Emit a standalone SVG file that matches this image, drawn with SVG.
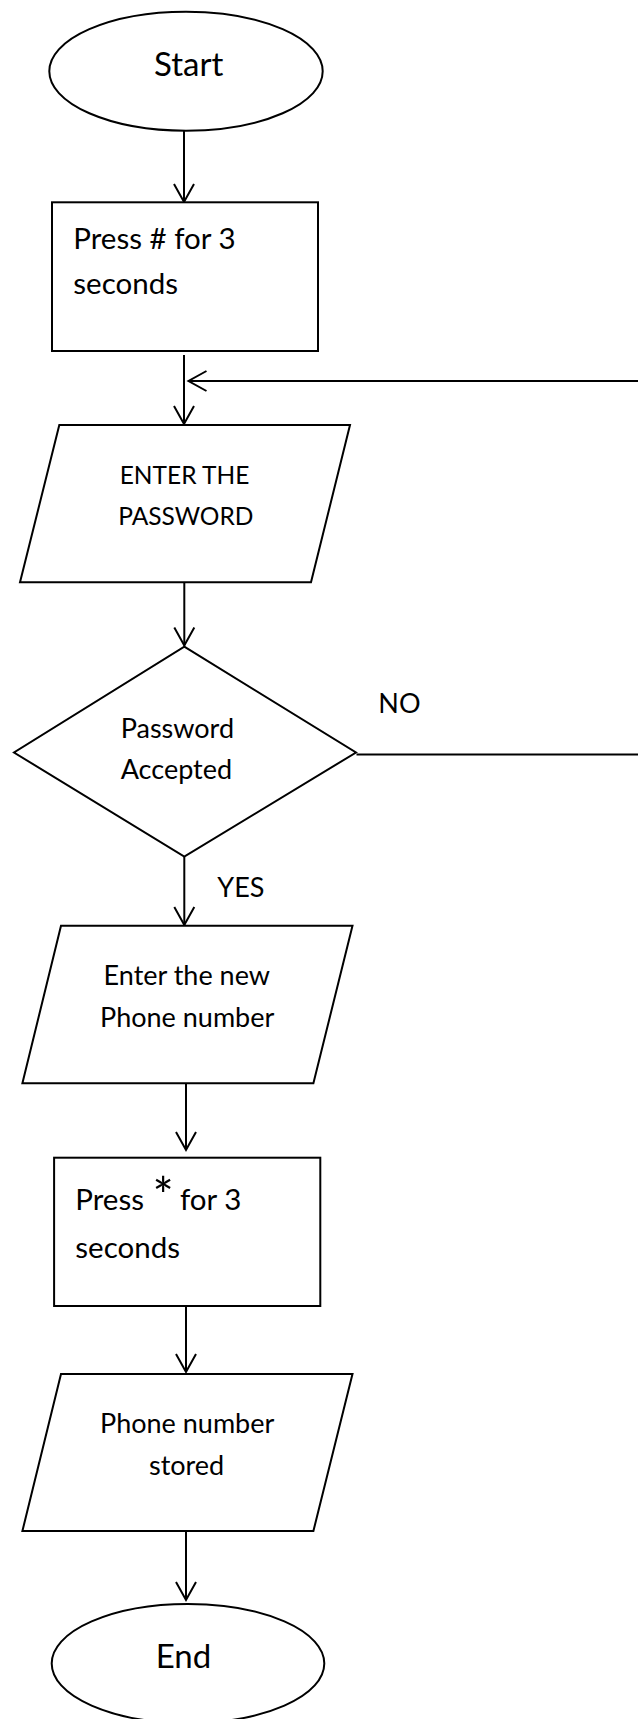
<svg xmlns="http://www.w3.org/2000/svg" width="638" height="1719" viewBox="0 0 638 1719">
  <style>
    .shape { fill: #ffffff; stroke: #000000; stroke-width: 2; }
    .wire { fill: none; stroke: #000000; stroke-width: 2; }
    .label { font-family: Lato, "Liberation Sans", sans-serif; fill: #000000; }
    .body { font-size: 27px; }
    .caps { font-size: 24.5px; }
    .boxtext { font-size: 29.5px; }
    .term { font-size: 33px; }
    .mid { text-anchor: middle; }
  </style>
  <defs>
    <marker id="open-arrow" markerUnits="userSpaceOnUse" viewBox="-20 -12 22 24" refX="0" refY="0" markerWidth="22" markerHeight="24" orient="auto" overflow="visible">
      <path d="M -18 -10 L 0 0 L -18 10" fill="none" stroke="#000000" stroke-width="2"/>
    </marker>
  </defs>

  <rect x="0" y="0" width="638" height="1719" fill="#ffffff"/>

  <!-- connectors -->
  <g id="connectors">
    <line class="wire" x1="184" y1="131" x2="184" y2="202" marker-end="url(#open-arrow)"/>
    <line class="wire" x1="184" y1="355" x2="184" y2="424" marker-end="url(#open-arrow)"/>
    <line class="wire" x1="640" y1="381" x2="188.5" y2="381" marker-end="url(#open-arrow)"/>
    <line class="wire" x1="184.3" y1="577.5" x2="184.3" y2="645.5" marker-end="url(#open-arrow)"/>
    <line class="wire" x1="356.5" y1="754.5" x2="640" y2="754.5"/>
    <line class="wire" x1="184.3" y1="856.7" x2="184.3" y2="925" marker-end="url(#open-arrow)"/>
    <line class="wire" x1="186" y1="1083" x2="186" y2="1150" marker-end="url(#open-arrow)"/>
    <line class="wire" x1="186" y1="1306" x2="186" y2="1372" marker-end="url(#open-arrow)"/>
    <line class="wire" x1="186" y1="1531" x2="186" y2="1600" marker-end="url(#open-arrow)"/>
    <text class="label body" x="378.3" y="712.7">NO</text>
    <text class="label body" x="217.3" y="896.7">YES</text>
  </g>

  <!-- start terminator -->
  <g id="start">
    <ellipse class="shape" cx="186" cy="71.2" rx="136.7" ry="59.5"/>
    <text class="label term mid" x="188.7" y="76">Start</text>
  </g>

  <!-- hold # key -->
  <g id="press-hash">
    <rect class="shape" x="52" y="202.3" width="266" height="148.7"/>
    <text class="label boxtext" x="73.3" y="249.3">Press # for 3</text>
    <text class="label boxtext" x="73.3" y="294">seconds</text>
  </g>

  <!-- password input -->
  <g id="enter-password">
    <polygon class="shape" points="59.3,425 350,425 311,582.3 20,582.3"/>
    <text class="label caps mid" x="184.5" y="484">ENTER THE</text>
    <text class="label caps mid" x="185.8" y="525">PASSWORD</text>
  </g>

  <!-- password check -->
  <g id="password-accepted">
    <polygon class="shape" points="184.3,646.7 356,752.5 184.3,856.7 14,752.5"/>
    <text class="label body" x="120.7" y="737.7">Password</text>
    <text class="label body" x="120.7" y="779">Accepted</text>
  </g>

  <!-- new number input -->
  <g id="enter-number">
    <polygon class="shape" points="61,925.7 352.5,925.7 313.4,1083.3 22.4,1083.3"/>
    <text class="label body mid" x="186.8" y="985">Enter the new</text>
    <text class="label body mid" x="187.2" y="1026.7">Phone number</text>
  </g>

  <!-- hold * key -->
  <g id="press-star">
    <rect class="shape" x="54.1" y="1157.7" width="266.2" height="148.3"/>
    <text class="label boxtext" x="75.3" y="1210">Press <tspan x="152.5" y="1214" font-size="50px">*</tspan><tspan x="180" y="1210">for 3</tspan></text>
    <text class="label boxtext" x="75.3" y="1258.3">seconds</text>
  </g>

  <!-- number saved -->
  <g id="number-stored">
    <polygon class="shape" points="61,1374 352.5,1374 313.4,1531 22.4,1531"/>
    <text class="label body mid" x="187.2" y="1432.7">Phone number</text>
    <text class="label body mid" x="186.6" y="1475">stored</text>
  </g>

  <!-- end terminator -->
  <g id="end">
    <ellipse class="shape" cx="188" cy="1663.5" rx="136.3" ry="59.5"/>
    <text class="label term mid" x="183.4" y="1667.7">End</text>
  </g>
</svg>
